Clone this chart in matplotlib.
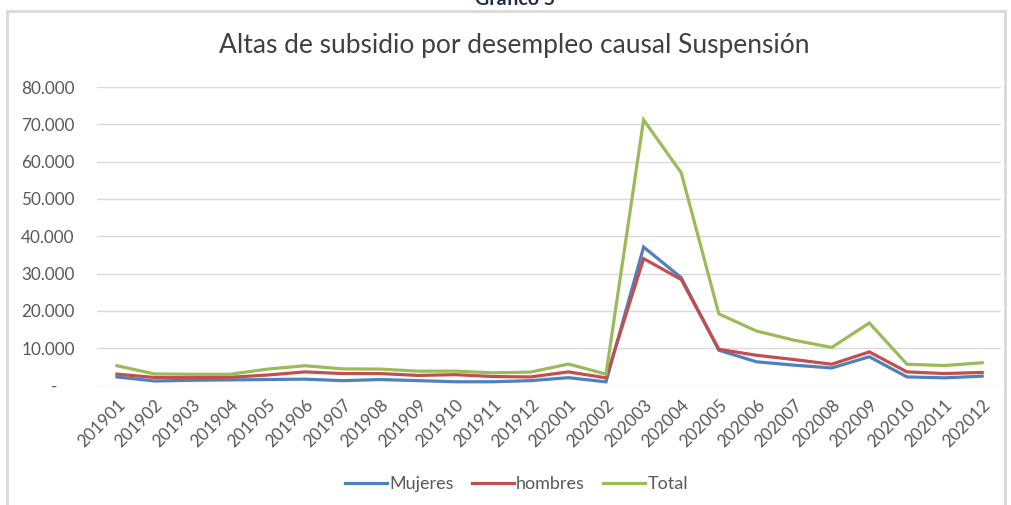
import numpy as np
import matplotlib
matplotlib.use("Agg")
from matplotlib import pyplot as plt
from matplotlib.patches import Rectangle
from matplotlib.ticker import FuncFormatter

# Periodos (año + mes)
periodos = ["201901", "201902", "201903", "201904", "201905", "201906",
            "201907", "201908", "201909", "201910", "201911", "201912",
            "202001", "202002", "202003", "202004", "202005", "202006",
            "202007", "202008", "202009", "202010", "202011", "202012"]

mujeres = [2300, 1200, 1400, 1500, 1600, 1700, 1300, 1600, 1300, 1000, 1000, 1300,
           2100, 970, 37100, 28900, 9450, 6350, 5450, 4700, 7700, 2300, 2050, 2500]
hombres = [3050, 2150, 2100, 2200, 2800, 3650, 3200, 3200, 2700, 2900, 2400, 2300,
           3650, 2050, 34000, 28400, 9700, 8100, 6950, 5700, 9000, 3650, 3200, 3500]
total = [5300, 3100, 3000, 3000, 4400, 5300, 4450, 4400, 3850, 3850, 3400, 3600,
         5750, 3050, 71200, 57000, 19200, 14600, 12150, 10200, 16750, 5700, 5350, 6100]

series = [("Mujeres", mujeres, "#4F81BD"),
          ("hombres", hombres, "#C0504D"),
          ("Total", total, "#9BBB59")]

plt.rcParams['font.family'] = ['Lato', 'DejaVu Sans']

fig = plt.figure(figsize=(10.11, 5.05), dpi=100)

# Marco del grafico
fig.patches.append(Rectangle((6.5 / 1011, -0.05), 998 / 1011, 1.05 - 11 / 505,
                             transform=fig.transFigure, fill=False,
                             edgecolor="#d9d9d9", linewidth=2))

# Titulo de la pagina (cortado arriba, como en el original)
fig.text(515 / 1011, 1 - 5 / 505, "Gráfico 5", ha="center", va="baseline",
         fontsize=14, fontweight="bold", color="#1f2d4d")

ax = fig.add_axes([97 / 1011, 1 - 385.5 / 505, 904 / 1011, 298.5 / 505])

x = np.arange(len(periodos))
for nombre, valores, color in series:
    ax.plot(x, valores, color=color, linewidth=2.3, label=nombre,
            solid_joinstyle="miter")

ax.set_xlim(-0.53, 23.5)
ax.set_ylim(0, 80000)
ax.set_yticks(np.arange(0, 80001, 10000))
ax.yaxis.set_major_formatter(FuncFormatter(
    lambda v, p: "-    " if v == 0 else f"{int(v):,}".replace(",", ".")))
ax.set_xticks(x)
ax.set_xticklabels(periodos, rotation=45, ha="right", rotation_mode="anchor")

ax.grid(axis="y", color="#d9d9d9", linewidth=1)
ax.set_axisbelow(True)
for s in ax.spines.values():
    s.set_visible(False)
ax.tick_params(length=0, colors="#595959", labelsize=12.3)
ax.tick_params(axis="y", pad=16)
ax.tick_params(axis="x", pad=8)

# Titulo del grafico, centrado en el marco
fig.text(514 / 1011, 1 - 45 / 505, "Altas de subsidio por desempleo causal Suspensión",
         ha="center", va="center", fontsize=19, color="#404040")

fig.legend(loc="center", bbox_to_anchor=(0.511, 1 - 484 / 505), ncol=3,
           frameon=False, fontsize=13, handlelength=2.3, handletextpad=0.15,
           columnspacing=1.0, labelcolor="#595959")

fig.savefig("out.png", dpi=100)
